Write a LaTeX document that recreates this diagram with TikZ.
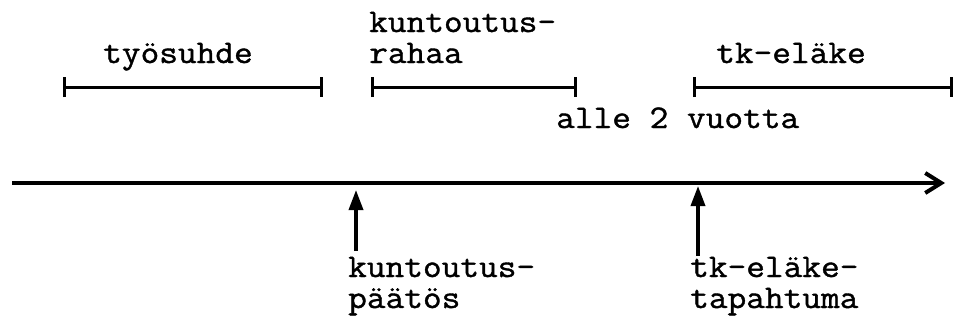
\documentclass[tikz,border=0pt]{standalone}
\usepackage{fontspec}
\newfontfamily\labfont[FakeBold=1.2,FakeStretch=1.1]{Latin Modern Mono}
\usetikzlibrary{arrows.meta}
\begin{document}
\begin{tikzpicture}[x=1pt,y=-1pt,
  lbl/.style={anchor=base west,inner sep=0pt,font=\labfont\fontsize{33}{31}\selectfont,align=left},
  span/.style={line width=3pt,{Bar[width=20pt,line width=3pt]}-{Bar[width=20pt,line width=3pt]}},
  axis/.style={line width=4pt,-{Straight Barb[length=16pt,width=20pt,line width=4pt]}},
  up/.style={line width=3.5pt,-{Triangle[length=20pt,width=14pt]}}]
\useasboundingbox (0,0) rectangle (960,322);
% intervals
\coordinate (a1) at (63,87);  \coordinate (a2) at (323,87);
\coordinate (b1) at (371,87); \coordinate (b2) at (577,87);
\coordinate (c1) at (693,87); \coordinate (c2) at (953,87);
\draw[span] (a1) -- (a2);
\draw[span] (b1) -- (b2);
\draw[span] (c1) -- (c2);
% labels above
\node[lbl] (tyo) at (103,63) {työsuhde};
\node[lbl] (kr) at (369,63) {kuntoutus-\\rahaa};
\node[lbl] (tk) at (716,63) {tk-eläke};
\node[lbl] (alle) at (556,128) {alle 2 vuotta};
% axis
\coordinate (s) at (12,183);
\coordinate (e) at (945,183);
\draw[axis] (s) -- (e);
% event arrows
\coordinate (p1) at (356,251); \coordinate (q1) at (356,190);
\coordinate (p2) at (698,256); \coordinate (q2) at (698,186);
\draw[up] (p1) -- (q1);
\draw[up] (p2) -- (q2);
\node[lbl] (kp) at (348,308) {kuntoutus-\\päätös};
\node[lbl] (tt) at (690,308) {tk-eläke-\\tapahtuma};
\end{tikzpicture}
\end{document}
